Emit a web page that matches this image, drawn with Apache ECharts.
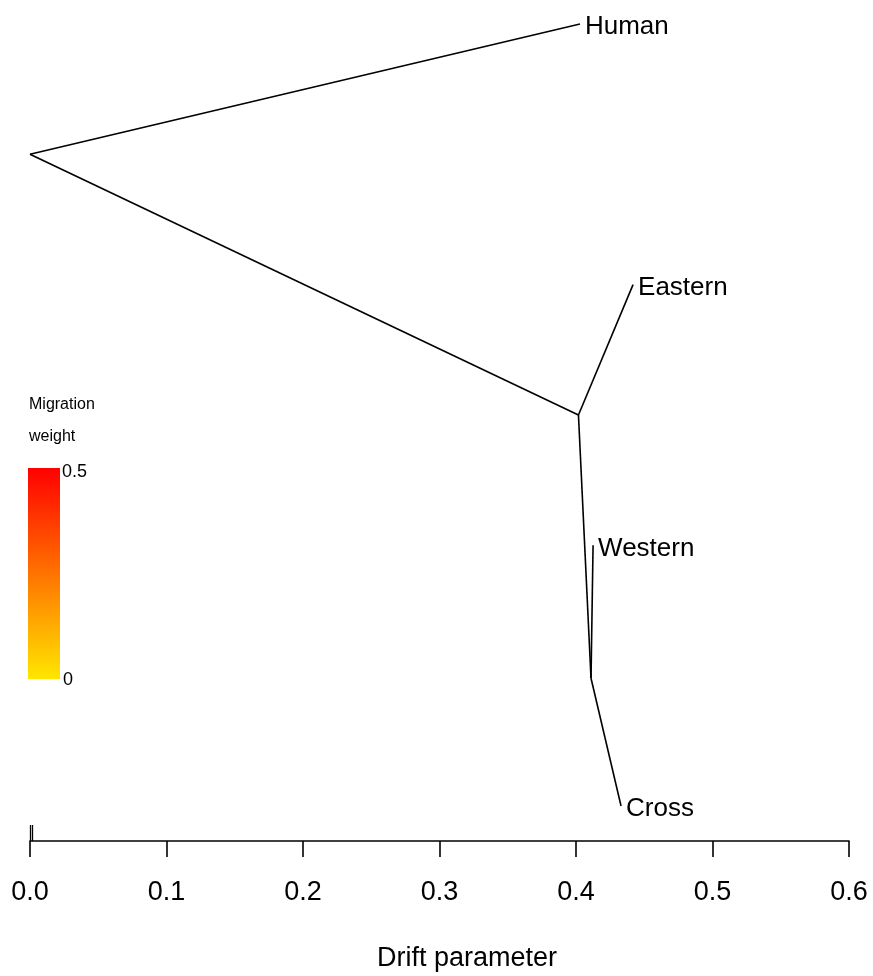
<!DOCTYPE html>
<html><head><meta charset="utf-8">
<script src="https://cdn.jsdelivr.net/npm/echarts@6/dist/echarts.min.js"></script>
<style>html,body{margin:0;padding:0;background:#fff}#c{width:873px;height:976px}</style>
</head><body><div id="c"></div>
<script>
// Tree nodes (drift on x, vertical position on y)
const nodeNames = ['root', 'n1', 'n2', 'Human', 'Eastern', 'Western', 'Cross'];
const nodeX = [0.0, 0.4018, 0.411, 0.4029, 0.4418, 0.4125, 0.433];
const nodeY = [3.5, 2.5, 1.49, 4, 3, 2, 1];
const edges = [[0, 3], [0, 1], [1, 4], [1, 2], [2, 5], [2, 6]];
const tipIdx = [3, 4, 5, 6];
const xTicks = [0, 0.1, 0.2, 0.3, 0.4, 0.5, 0.6];
const seBar = [0, 0.0018];   // small scale bar near 0
const legendTicks = ['0.5', '0'];

const FONT = '"Liberation Sans", Arial, Helvetica, sans-serif';
const chart = echarts.init(document.getElementById('c'), null, {renderer: 'canvas'});

const edgeData = edges.map(e => ({coords: [[nodeX[e[0]], nodeY[e[0]]], [nodeX[e[1]], nodeY[e[1]]]]}));
const tipData = tipIdx.map(i => ({value: [nodeX[i], nodeY[i]], name: nodeNames[i]}));

chart.setOption({
  animation: false,
  grid: [
    {left: 30, right: 24, top: 24, bottom: 13.6},
    {left: 30, right: 24, top: 825, height: 16}
  ],
  xAxis: [
    {gridIndex: 0, type: 'value', min: 0, max: 0.6, show: false},
    {gridIndex: 1, type: 'value', min: xTicks[0], max: xTicks[xTicks.length - 1], interval: 0.1,
     axisLine: {show: true, onZero: false, lineStyle: {color: '#000', width: 1.6}},
     axisTick: {show: true, length: 16, lineStyle: {color: '#000', width: 1.6}},
     splitLine: {show: false},
     axisLabel: {color: '#000', fontSize: 27, fontFamily: FONT, margin: 38,
       formatter: v => v.toFixed(1)},
     name: 'Drift parameter', nameLocation: 'middle', nameGap: 104,
     nameTextStyle: {color: '#000', fontSize: 27, fontFamily: FONT, padding: [0, 0, 0, 55]}}
  ],
  yAxis: [
    {gridIndex: 0, type: 'value', min: 0.4, max: 4, show: false},
    {gridIndex: 1, type: 'value', min: 0, max: 1, show: false}
  ],
  series: [
    {type: 'lines', coordinateSystem: 'cartesian2d', xAxisIndex: 0, yAxisIndex: 0,
     data: edgeData, lineStyle: {color: '#000', width: 1.6, opacity: 1}, silent: true, clip: false},
    {type: 'scatter', xAxisIndex: 0, yAxisIndex: 0, data: tipData, symbolSize: 0, clip: false,
     itemStyle: {opacity: 1},
     label: {show: true, position: 'right', distance: 5, offset: [0, 3], formatter: p => p.name,
       color: '#000', fontSize: 26, fontFamily: FONT}},
    {type: 'lines', coordinateSystem: 'cartesian2d', xAxisIndex: 1, yAxisIndex: 1,
     data: seBar.map(x => ({coords: [[x, 0], [x, 1]]})),
     lineStyle: {color: '#000', width: 1.3, opacity: 1}, silent: true, clip: false}
  ],
  graphic: [
    {type: 'text', x: 29, y: 405, style: {text: 'Migration', fontSize: 16, fontFamily: FONT, fill: '#000', verticalAlign: 'middle'}},
    {type: 'text', x: 29, y: 436.5, style: {text: 'weight', fontSize: 16, fontFamily: FONT, fill: '#000', verticalAlign: 'middle'}},
    {type: 'rect', shape: {x: 28, y: 468, width: 32, height: 211},
     style: {fill: new echarts.graphic.LinearGradient(0, 0, 0, 1, [
       {offset: 0, color: '#ff0000'}, {offset: 0.5, color: '#ff7300'}, {offset: 1, color: '#ffe600'}])}},
    {type: 'text', x: 62, y: 472, style: {text: legendTicks[0], fontSize: 18, fontFamily: FONT, fill: '#000', verticalAlign: 'middle'}},
    {type: 'text', x: 63, y: 680, style: {text: legendTicks[1], fontSize: 18, fontFamily: FONT, fill: '#000', verticalAlign: 'middle'}}
  ]
});
</script></body></html>
